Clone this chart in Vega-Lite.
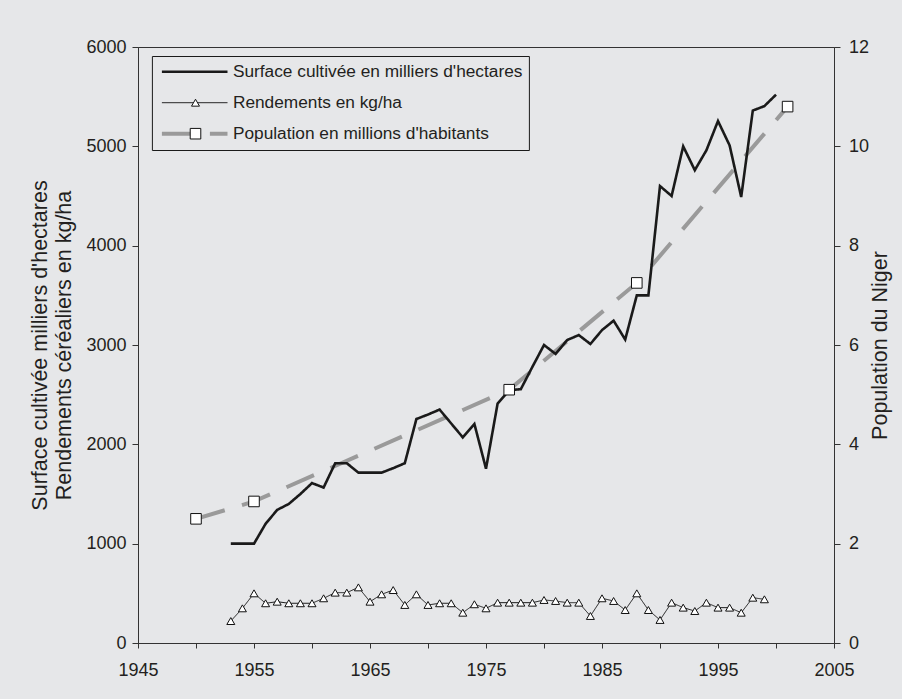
{
  "$schema": "https://vega.github.io/schema/vega-lite/v6.json",
  "width": 696,
  "height": 596,
  "autosize": {"type": "none"},
  "padding": {"left": 138, "top": 47, "right": 68, "bottom": 56},
  "background": "#e6e7e9",
  "config": {
    "font": "Liberation Sans",
    "view": {"stroke": "#333333", "strokeWidth": 1},
    "axis": {
      "grid": false,
      "domainColor": "#333333",
      "tickColor": "#333333",
      "labelColor": "#231f20",
      "titleColor": "#231f20",
      "labelFont": "Liberation Sans",
      "titleFont": "Liberation Sans",
      "labelFontSize": 18,
      "titleFontSize": 21.5,
      "titleFontWeight": "normal",
      "tickSize": 6,
      "domainWidth": 1,
      "tickWidth": 1
    }
  },
  "data": {
    "values": [
      {"series": "Surface cultivée en milliers d'hectares", "year": 1953, "value": 1000},
      {"series": "Surface cultivée en milliers d'hectares", "year": 1954, "value": 1000},
      {"series": "Surface cultivée en milliers d'hectares", "year": 1955, "value": 1000},
      {"series": "Surface cultivée en milliers d'hectares", "year": 1956, "value": 1200},
      {"series": "Surface cultivée en milliers d'hectares", "year": 1957, "value": 1340},
      {"series": "Surface cultivée en milliers d'hectares", "year": 1958, "value": 1400},
      {"series": "Surface cultivée en milliers d'hectares", "year": 1959, "value": 1500},
      {"series": "Surface cultivée en milliers d'hectares", "year": 1960, "value": 1610},
      {"series": "Surface cultivée en milliers d'hectares", "year": 1961, "value": 1565},
      {"series": "Surface cultivée en milliers d'hectares", "year": 1962, "value": 1810},
      {"series": "Surface cultivée en milliers d'hectares", "year": 1963, "value": 1810},
      {"series": "Surface cultivée en milliers d'hectares", "year": 1964, "value": 1715},
      {"series": "Surface cultivée en milliers d'hectares", "year": 1965, "value": 1715},
      {"series": "Surface cultivée en milliers d'hectares", "year": 1966, "value": 1715},
      {"series": "Surface cultivée en milliers d'hectares", "year": 1967, "value": 1760},
      {"series": "Surface cultivée en milliers d'hectares", "year": 1968, "value": 1810},
      {"series": "Surface cultivée en milliers d'hectares", "year": 1969, "value": 2255},
      {"series": "Surface cultivée en milliers d'hectares", "year": 1970, "value": 2300},
      {"series": "Surface cultivée en milliers d'hectares", "year": 1971, "value": 2350},
      {"series": "Surface cultivée en milliers d'hectares", "year": 1972, "value": 2210},
      {"series": "Surface cultivée en milliers d'hectares", "year": 1973, "value": 2070},
      {"series": "Surface cultivée en milliers d'hectares", "year": 1974, "value": 2205},
      {"series": "Surface cultivée en milliers d'hectares", "year": 1975, "value": 1755},
      {"series": "Surface cultivée en milliers d'hectares", "year": 1976, "value": 2410},
      {"series": "Surface cultivée en milliers d'hectares", "year": 1977, "value": 2545},
      {"series": "Surface cultivée en milliers d'hectares", "year": 1978, "value": 2555},
      {"series": "Surface cultivée en milliers d'hectares", "year": 1979, "value": 2780},
      {"series": "Surface cultivée en milliers d'hectares", "year": 1980, "value": 3000},
      {"series": "Surface cultivée en milliers d'hectares", "year": 1981, "value": 2910},
      {"series": "Surface cultivée en milliers d'hectares", "year": 1982, "value": 3050},
      {"series": "Surface cultivée en milliers d'hectares", "year": 1983, "value": 3100},
      {"series": "Surface cultivée en milliers d'hectares", "year": 1984, "value": 3010},
      {"series": "Surface cultivée en milliers d'hectares", "year": 1985, "value": 3150},
      {"series": "Surface cultivée en milliers d'hectares", "year": 1986, "value": 3245},
      {"series": "Surface cultivée en milliers d'hectares", "year": 1987, "value": 3055},
      {"series": "Surface cultivée en milliers d'hectares", "year": 1988, "value": 3500},
      {"series": "Surface cultivée en milliers d'hectares", "year": 1989, "value": 3500},
      {"series": "Surface cultivée en milliers d'hectares", "year": 1990, "value": 4600},
      {"series": "Surface cultivée en milliers d'hectares", "year": 1991, "value": 4500},
      {"series": "Surface cultivée en milliers d'hectares", "year": 1992, "value": 5000},
      {"series": "Surface cultivée en milliers d'hectares", "year": 1993, "value": 4760},
      {"series": "Surface cultivée en milliers d'hectares", "year": 1994, "value": 4960},
      {"series": "Surface cultivée en milliers d'hectares", "year": 1995, "value": 5255},
      {"series": "Surface cultivée en milliers d'hectares", "year": 1996, "value": 5010},
      {"series": "Surface cultivée en milliers d'hectares", "year": 1997, "value": 4490},
      {"series": "Surface cultivée en milliers d'hectares", "year": 1998, "value": 5360},
      {"series": "Surface cultivée en milliers d'hectares", "year": 1999, "value": 5405},
      {"series": "Surface cultivée en milliers d'hectares", "year": 2000, "value": 5520},
      {"series": "Rendements en kg/ha", "year": 1953, "value": 221},
      {"series": "Rendements en kg/ha", "year": 1954, "value": 349},
      {"series": "Rendements en kg/ha", "year": 1955, "value": 500},
      {"series": "Rendements en kg/ha", "year": 1956, "value": 400},
      {"series": "Rendements en kg/ha", "year": 1957, "value": 416},
      {"series": "Rendements en kg/ha", "year": 1958, "value": 400},
      {"series": "Rendements en kg/ha", "year": 1959, "value": 400},
      {"series": "Rendements en kg/ha", "year": 1960, "value": 400},
      {"series": "Rendements en kg/ha", "year": 1961, "value": 450},
      {"series": "Rendements en kg/ha", "year": 1962, "value": 507},
      {"series": "Rendements en kg/ha", "year": 1963, "value": 507},
      {"series": "Rendements en kg/ha", "year": 1964, "value": 560},
      {"series": "Rendements en kg/ha", "year": 1965, "value": 416},
      {"series": "Rendements en kg/ha", "year": 1966, "value": 490},
      {"series": "Rendements en kg/ha", "year": 1967, "value": 533},
      {"series": "Rendements en kg/ha", "year": 1968, "value": 383},
      {"series": "Rendements en kg/ha", "year": 1969, "value": 490},
      {"series": "Rendements en kg/ha", "year": 1970, "value": 383},
      {"series": "Rendements en kg/ha", "year": 1971, "value": 400},
      {"series": "Rendements en kg/ha", "year": 1972, "value": 400},
      {"series": "Rendements en kg/ha", "year": 1973, "value": 305},
      {"series": "Rendements en kg/ha", "year": 1974, "value": 390},
      {"series": "Rendements en kg/ha", "year": 1975, "value": 349},
      {"series": "Rendements en kg/ha", "year": 1976, "value": 406},
      {"series": "Rendements en kg/ha", "year": 1977, "value": 406},
      {"series": "Rendements en kg/ha", "year": 1978, "value": 406},
      {"series": "Rendements en kg/ha", "year": 1979, "value": 406},
      {"series": "Rendements en kg/ha", "year": 1980, "value": 433},
      {"series": "Rendements en kg/ha", "year": 1981, "value": 423},
      {"series": "Rendements en kg/ha", "year": 1982, "value": 406},
      {"series": "Rendements en kg/ha", "year": 1983, "value": 406},
      {"series": "Rendements en kg/ha", "year": 1984, "value": 272},
      {"series": "Rendements en kg/ha", "year": 1985, "value": 450},
      {"series": "Rendements en kg/ha", "year": 1986, "value": 423},
      {"series": "Rendements en kg/ha", "year": 1987, "value": 332},
      {"series": "Rendements en kg/ha", "year": 1988, "value": 500},
      {"series": "Rendements en kg/ha", "year": 1989, "value": 332},
      {"series": "Rendements en kg/ha", "year": 1990, "value": 232},
      {"series": "Rendements en kg/ha", "year": 1991, "value": 406},
      {"series": "Rendements en kg/ha", "year": 1992, "value": 356},
      {"series": "Rendements en kg/ha", "year": 1993, "value": 322},
      {"series": "Rendements en kg/ha", "year": 1994, "value": 406},
      {"series": "Rendements en kg/ha", "year": 1995, "value": 356},
      {"series": "Rendements en kg/ha", "year": 1996, "value": 356},
      {"series": "Rendements en kg/ha", "year": 1997, "value": 305},
      {"series": "Rendements en kg/ha", "year": 1998, "value": 456},
      {"series": "Rendements en kg/ha", "year": 1999, "value": 440},
      {"series": "Population en millions d'habitants", "year": 1950, "value": 2.5},
      {"series": "Population en millions d'habitants", "year": 1955, "value": 2.85},
      {"series": "Population en millions d'habitants", "year": 1977, "value": 5.1},
      {"series": "Population en millions d'habitants", "year": 1988, "value": 7.25},
      {"series": "Population en millions d'habitants", "year": 2001, "value": 10.8}
    ]
  },
  "encoding": {
    "x": {
      "field": "year",
      "type": "quantitative",
      "scale": {"domain": [1945, 2005], "nice": false, "zero": false},
      "axis": {
        "title": null,
        "values": [1945, 1950, 1955, 1960, 1965, 1970, 1975, 1980, 1985, 1990, 1995, 2000, 2005],
        "format": "d",
        "labelExpr": "datum.value % 10 == 5 ? datum.label : ''",
        "labelOverlap": false,
        "labelFlush": false,
        "tickSize": 5,
        "labelPadding": 13
      }
    }
  },
  "layer": [
    {
      "transform": [{"filter": {"field": "series", "equal": "Population en millions d'habitants"}}],
      "mark": {"type": "line", "strokeCap": "butt"},
      "encoding": {
        "y": {
          "field": "value",
          "type": "quantitative",
          "scale": {"domain": [0, 12], "nice": false},
          "axis": {
            "orient": "right",
            "title": "Population du Niger",
            "values": [0, 2, 4, 6, 8, 10, 12],
            "format": "d",
            "titleAngle": 270,
            "titleBaseline": "top",
            "titlePadding": 1,
            "labelPadding": 8.5
          }
        },
        "color": {
          "field": "series",
          "type": "nominal",
          "scale": {
            "domain": ["Surface cultivée en milliers d'hectares", "Rendements en kg/ha", "Population en millions d'habitants"],
            "range": ["#1a1a1a", "#1a1a1a", "#9a9a9a"]
          },
          "legend": {
            "title": null,
            "orient": "none",
            "legendX": 13.9,
            "legendY": 9,
            "padding": 5.7,
            "strokeColor": "#1a1a1a",
            "symbolType": "M-0.87,0H12.25",
            "symbolSize": 100,
            "labelOffset": 58,
            "labelFontSize": 17.3,
            "labelFont": "Liberation Sans",
            "labelColor": "#231f20",
            "rowPadding": 11,
            "clipHeight": 20,
            "labelLimit": 400
          }
        },
        "strokeWidth": {
          "field": "series",
          "type": "nominal",
          "scale": {
            "type": "ordinal",
            "domain": ["Surface cultivée en milliers d'hectares", "Rendements en kg/ha", "Population en millions d'habitants"],
            "range": [2.6, 1, 4]
          }
        },
        "strokeDash": {
          "field": "series",
          "type": "nominal",
          "scale": {
            "domain": ["Surface cultivée en milliers d'hectares", "Rendements en kg/ha", "Population en millions d'habitants"],
            "range": [[1, 0], [1, 0], [30, 18]]
          }
        }
      }
    },
    {
      "transform": [{"filter": {"field": "series", "oneOf": ["Surface cultivée en milliers d'hectares", "Rendements en kg/ha"]}}],
      "layer": [
        {
          "mark": {"type": "line"},
          "encoding": {
            "y": {
              "field": "value",
              "type": "quantitative",
              "scale": {"domain": [0, 6000], "nice": false},
              "axis": {
                "orient": "left",
                "title": ["Surface cultivée milliers d'hectares", "Rendements céréaliers en kg/ha"],
                "titleLineHeight": 24,
                "values": [0, 1000, 2000, 3000, 4000, 5000, 6000],
                "format": "d",
                "titlePadding": 10,
                "labelPadding": 6
              }
            },
            "color": {
              "field": "series",
              "type": "nominal",
              "scale": {
                "domain": ["Surface cultivée en milliers d'hectares", "Rendements en kg/ha", "Population en millions d'habitants"],
                "range": ["#1a1a1a", "#1a1a1a", "#9a9a9a"]
              },
              "legend": {
                "title": null,
                "orient": "none",
                "legendX": 13.9,
                "legendY": 9,
                "padding": 5.7,
                "strokeColor": "#1a1a1a",
                "symbolType": "M-0.87,0H12.25",
                "symbolSize": 100,
                "labelOffset": 58,
                "labelFontSize": 17.3,
                "labelFont": "Liberation Sans",
                "labelColor": "#231f20",
                "rowPadding": 11,
                "clipHeight": 20,
                "labelLimit": 400
              }
            },
            "strokeWidth": {
              "field": "series",
              "type": "nominal",
              "scale": {
                "type": "ordinal",
                "domain": ["Surface cultivée en milliers d'hectares", "Rendements en kg/ha", "Population en millions d'habitants"],
                "range": [2.6, 1, 4]
              }
            },
            "strokeDash": {
              "field": "series",
              "type": "nominal",
              "scale": {
                "domain": ["Surface cultivée en milliers d'hectares", "Rendements en kg/ha", "Population en millions d'habitants"],
                "range": [[1, 0], [1, 0], [30, 18]]
              }
            }
          }
        },
        {
          "transform": [{"filter": {"field": "series", "equal": "Rendements en kg/ha"}}],
          "mark": {"type": "point", "filled": true, "fill": "white", "stroke": "#111111", "strokeWidth": 1, "opacity": 1},
          "encoding": {
            "y": {"field": "value", "type": "quantitative"},
            "shape": {
              "field": "series",
              "type": "nominal",
              "scale": {"domain": ["Rendements en kg/ha", "Population en millions d'habitants"], "range": ["triangle-up", "square"]},
              "legend": {
                "title": null,
                "orient": "none",
                "legendX": 13.9,
                "legendY": 40,
                "padding": 5.7,
                "symbolOffset": 29.25,
                "labelExpr": "''",
                "labelFontSize": 17.3,
                "rowPadding": 11,
                "clipHeight": 20,
                "symbolFillColor": "white",
                "symbolStrokeColor": "#111111",
                "symbolStrokeWidth": 1,
                "symbolOpacity": 1
              }
            },
            "size": {
              "field": "series",
              "type": "nominal",
              "scale": {"type": "ordinal", "domain": ["Rendements en kg/ha", "Population en millions d'habitants"], "range": [64, 112]}
            }
          }
        }
      ]
    },
    {
      "transform": [{"filter": {"field": "series", "equal": "Population en millions d'habitants"}}],
      "mark": {"type": "point", "filled": true, "fill": "white", "stroke": "#111111", "strokeWidth": 1, "opacity": 1},
      "encoding": {
        "y": {"field": "value", "type": "quantitative", "scale": {"domain": [0, 12], "nice": false}, "axis": null},
        "shape": {
          "field": "series",
          "type": "nominal",
          "scale": {"domain": ["Rendements en kg/ha", "Population en millions d'habitants"], "range": ["triangle-up", "square"]},
          "legend": {
            "title": null,
            "orient": "none",
            "legendX": 13.9,
            "legendY": 40,
            "padding": 5.7,
            "symbolOffset": 29.25,
            "labelExpr": "''",
            "labelFontSize": 17.3,
            "rowPadding": 11,
            "clipHeight": 20,
            "symbolFillColor": "white",
            "symbolStrokeColor": "#111111",
            "symbolStrokeWidth": 1,
            "symbolOpacity": 1
          }
        },
        "size": {
          "field": "series",
          "type": "nominal",
          "scale": {"type": "ordinal", "domain": ["Rendements en kg/ha", "Population en millions d'habitants"], "range": [64, 112]}
        }
      }
    }
  ],
  "resolve": {"scale": {"y": "independent"}}
}
